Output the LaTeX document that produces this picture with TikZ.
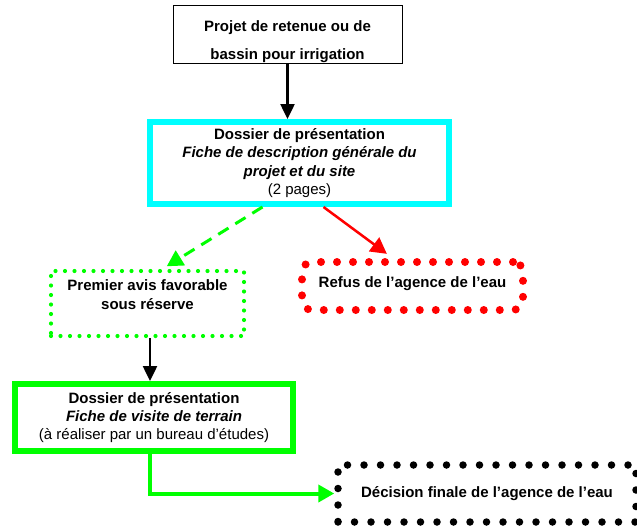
\documentclass[tikz,border=0pt]{standalone}
\usepackage{fontspec}
\setmainfont{Liberation Sans}
\usepackage{xcolor}
\usepackage{tikz}
\usetikzlibrary{arrows.meta, positioning, calc}
\definecolor{aqua}{RGB}{0,255,255}
\definecolor{lime}{RGB}{0,255,0}
\definecolor{pure_red}{RGB}{255,0,0}
\tikzstyle{arrow} = [line width=2.5pt, -{Triangle[width=14pt, length=15pt]}]
\tikzstyle{big_arrow} = [line width=3pt, -{Triangle[width=17pt, length=16pt]}]

\begin{document}
\begin{tikzpicture}[x=1pt, y=-1pt,
        % Styles for the boxes of the flowchart
        flow_box/.style={draw, align=center, inner sep=0pt, font=\fontsize{15}{18.3}\selectfont},
        dot_line/.style={line cap=round, dash pattern=on 0pt off #1}
    ]
        \useasboundingbox (0,0) rectangle (637,530);

        % --- Boxes at fixed positions ---
        \node (projet) [flow_box, line width=1pt, minimum width=229pt, minimum height=58pt] at (287.5, 34)
            {\rule{0pt}{26pt}\textbf{Projet de retenue ou de}\\[9pt]\textbf{bassin pour irrigation}};
        \node (dossier_a) [flow_box, draw=aqua, line width=6pt, minimum width=299pt, minimum height=82pt] at (299.5, 163)
            {\textbf{Dossier de présentation}\\\textbf{\itshape Fiche de description générale du}\\\textbf{\itshape projet et du site}\\(2 pages)};
        \node (avis) [flow_box, draw=lime, line width=4.2pt, dot_line=9.5pt, minimum width=193pt, minimum height=65pt] at (147.5, 303.5)
            {\textbf{Premier avis favorable}\\\textbf{sous réserve}\rule[-18pt]{0pt}{1pt}};
        \node (refus) [flow_box, draw=pure_red, line width=8pt, dot_line=16pt, rounded corners=10pt, minimum width=221pt, minimum height=48pt] at (412.5, 286)
            {\textbf{Refus de l’agence de l’eau}\rule[-8pt]{0pt}{1pt}};
        \node (dossier_b) [flow_box, draw=lime, line width=6pt, minimum width=278pt, minimum height=67pt] at (154, 417.5)
            {\textbf{Dossier de présentation}\\\textbf{\itshape Fiche de visite de terrain}\\(à réaliser par un bureau d’études)};
        \node (decision) [flow_box, line width=7.5pt, dot_line=16.5pt, minimum width=298pt, minimum height=57pt] at (487, 493.5)
            {\textbf{Décision finale de l’agence de l’eau}};

        % --- Arrows between the boxes ---
        \draw[arrow] (projet.south) -- (projet.south |- dossier_a.north);
        \draw[big_arrow, draw=lime, dash pattern=on 12pt off 8pt, shorten >=5pt]
            ([xshift=-37pt]dossier_a.south) -- ([xshift=15pt]avis.north);
        \draw[big_arrow, draw=pure_red, line width=2.5pt, shorten >=7pt]
            ([xshift=24pt]dossier_a.south) -- ([xshift=-20pt]refus.north);
        \draw[arrow] ([xshift=2.5pt]avis.south) -- ([xshift=2.5pt]avis.south |- dossier_b.north);
        \draw[big_arrow, draw=lime, line width=4pt]
            ([xshift=-4pt]dossier_b.south) |- (decision.west);

    \end{tikzpicture}
\end{document}
